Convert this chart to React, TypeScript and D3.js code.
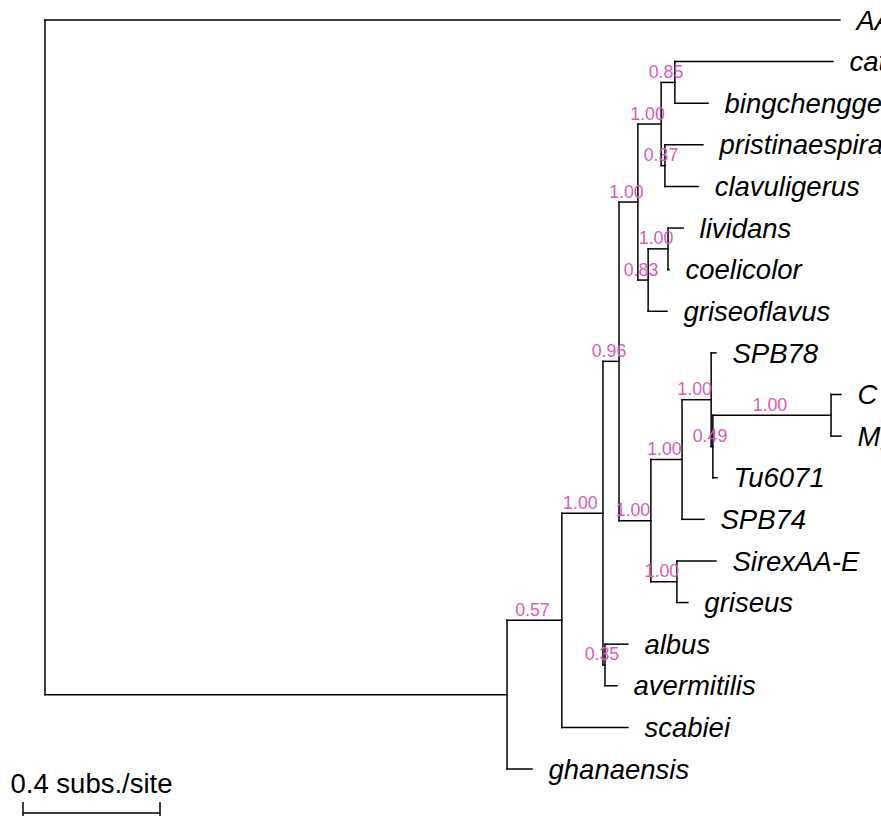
import React from "react";
import * as d3 from "d3";

// Tree in preorder: node id, parent id, branch length (subs./site), support, tip label
const nodeIds = ["root","AA4","n1","n2","n3","nG","nF","nC","nA","cattleya","bingchenggensis","nB","pristinaespiralis","clavuligerus","nE","nD","lividans","coelicolor","griseoflavus","nH","nI","nK","SPB78","nL","nM","C","Mg1","Tu6071","SPB74","nJ","SirexAA-E","griseus","nP","albus","avermitilis","scabiei","ghanaensis"];
const parentIds = ["","root","root","n1","n2","n3","nG","nF","nC","nA","nA","nC","nB","nB","nF","nE","nD","nD","nE","nG","nH","nI","nK","nK","nL","nM","nM","nL","nI","nH","nJ","nJ","n3","nP","nP","n2","n1"];
const branchLengths = [0,2.321,1.349,0.160,0.120,0.047,0.055,0.068,0.040,0.462,0.097,0.011,0.111,0.097,0.030,0.058,0.044,0.003,0.055,0.093,0.091,0.085,0.014,0.005,0.345,0.029,0.029,0.012,0.064,0.076,0.114,0.032,0.006,0.067,0.035,0.193,0.073];
const supportValues: (string | null)[] = [null,null,null,"0.57","1.00","0.96","1.00","1.00","0.85",null,null,"0.37",null,null,"0.83","1.00",null,null,null,"1.00","1.00","1.00",null,"0.49","1.00",null,null,null,null,"1.00",null,null,"0.35",null,null,null,null];
const scaleBarLength = 0.4;
const scaleBarLabel = "0.4 subs./site";

const W = 881;
const H = 816;
const FONT = "'Liberation Sans', Arial, Helvetica, sans-serif";

export default function App() {
  const rows = nodeIds.map((id, i) => ({
    id,
    parent: parentIds[i] || null,
    len: branchLengths[i],
    support: supportValues[i],
  }));
  const root = d3
    .stratify<any>()
    .id((d) => d.id)
    .parentId((d) => d.parent)(rows);

  const unitPx = 342.5;
  const xScale = d3.scaleLinear().domain([0, 1]).range([45, 45 + unitPx]);
  const lenScale = d3.scaleLinear().domain([0, 1]).range([0, unitPx]);

  const leaves = root.leaves();
  const yScale = d3.scaleLinear().domain([0, leaves.length - 1]).range([20, 769]);

  const pos = new Map<any, { x: number; y: number; depth: number }>();
  root.eachBefore((n: any) => {
    const depth = n.parent ? pos.get(n.parent)!.depth + n.data.len : 0;
    pos.set(n, { x: xScale(depth), y: 0, depth });
  });
  leaves.forEach((l: any, i: number) => {
    pos.get(l)!.y = yScale(i);
  });
  root.eachAfter((n: any) => {
    if (n.children) {
      const ys = n.children.map((c: any) => pos.get(c)!.y);
      pos.get(n)!.y = (ys[0] + ys[ys.length - 1]) / 2;
    }
  });

  const nodes = root.descendants();
  const lines: React.ReactNode[] = [];
  const labels: React.ReactNode[] = [];
  const sw = 1.5;
  nodes.forEach((n: any, i: number) => {
    const p = pos.get(n)!;
    if (n.children) {
      const y0 = pos.get(n.children[0])!.y;
      const y1 = pos.get(n.children[n.children.length - 1])!.y;
      lines.push(
        <line key={"v" + i} x1={p.x} x2={p.x} y1={y0} y2={y1} stroke="#000" strokeWidth={sw} strokeLinecap="square" />
      );
    }
    if (n.parent) {
      const pp = pos.get(n.parent)!;
      lines.push(
        <line key={"h" + i} x1={pp.x} x2={p.x} y1={p.y} y2={p.y} stroke="#000" strokeWidth={sw} strokeLinecap="square" />
      );
      if (n.data.support) {
        labels.push(
          <text key={"s" + i} x={(pp.x + p.x) / 2 - 2} y={p.y - 4.5} textAnchor="middle" fontSize={17.8} fill="#DA5CB7" fontFamily={FONT}>
            {n.data.support}
          </text>
        );
      }
    }
    if (!n.children) {
      labels.push(
        <text key={"t" + i} x={p.x + 16.5} y={p.y} dy="0.35em" fontSize={27.5} fontStyle="italic" fill="#000" fontFamily={FONT}>
          {n.data.id}
        </text>
      );
    }
  });

  const barX0 = 23;
  const barX1 = barX0 + lenScale(scaleBarLength);
  const barY = 813;

  return (
    <svg width={W} height={H} style={{ position: "absolute", left: 0, top: 0, background: "#fff" }}>
      <rect x={0} y={0} width={W} height={H} fill="#fff" />
      {lines}
      {labels}
      <text x={(barX0 + barX1) / 2} y={793} textAnchor="middle" fontSize={27.5} fill="#000" fontFamily={FONT}>
        {scaleBarLabel}
      </text>
      <line x1={barX0} x2={barX1} y1={barY} y2={barY} stroke="#000" strokeWidth={sw} />
      <line x1={barX0} x2={barX0} y1={802} y2={824} stroke="#000" strokeWidth={sw} />
      <line x1={barX1} x2={barX1} y1={802} y2={824} stroke="#000" strokeWidth={sw} />
    </svg>
  );
}
